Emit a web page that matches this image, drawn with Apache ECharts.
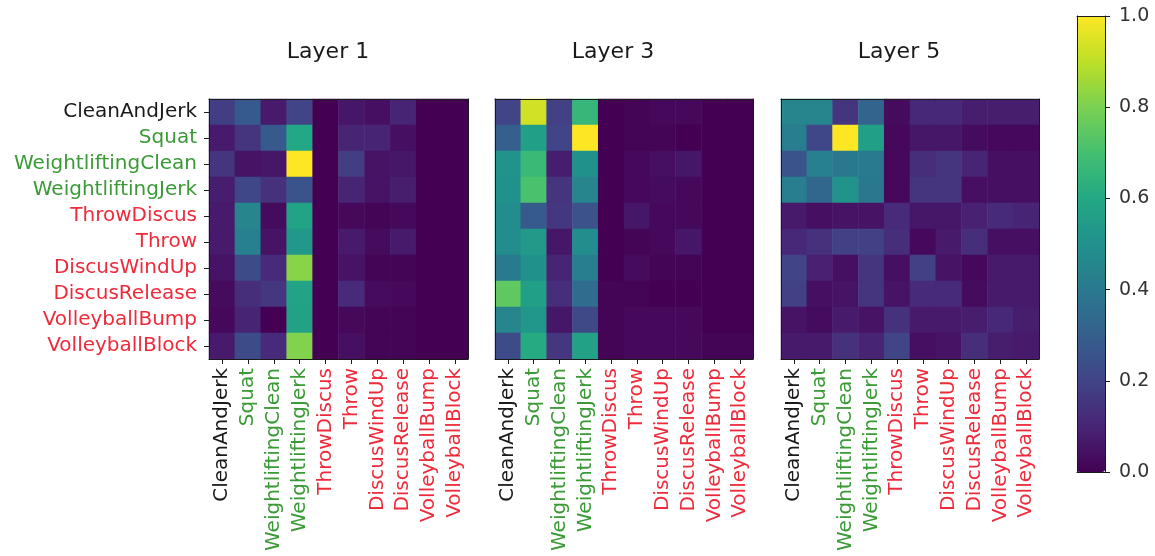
<!DOCTYPE html>
<html>
<head>
<meta charset="utf-8">
<script src="https://cdn.jsdelivr.net/npm/echarts@6/dist/echarts.min.js"></script>
<style>
html,body{margin:0;padding:0;background:#fff;}
#chart{width:1155px;height:556px;}
</style>
</head>
<body>
<div id="chart"></div>
<script>
const categories = ['CleanAndJerk','Squat','WeightliftingClean','WeightliftingJerk','ThrowDiscus','Throw','DiscusWindUp','DiscusRelease','VolleyballBump','VolleyballBlock'];
const categoryGroup = ['black','green','green','green','red','red','red','red','red','red'];
const layerTitles = ['Layer 1','Layer 3','Layer 5'];
const colorbarTicks = [0, 0.2, 0.4, 0.6, 0.8, 1.0];

const layer1 = [
  [0.18, 0.28, 0.07, 0.20, 0.00, 0.06, 0.04, 0.10, 0.00, 0.00],
  [0.07, 0.15, 0.28, 0.60, 0.00, 0.10, 0.10, 0.04, 0.00, 0.00],
  [0.15, 0.05, 0.06, 1.00, 0.00, 0.18, 0.05, 0.06, 0.00, 0.00],
  [0.08, 0.21, 0.14, 0.26, 0.00, 0.10, 0.05, 0.08, 0.00, 0.00],
  [0.07, 0.45, 0.03, 0.58, 0.00, 0.02, 0.01, 0.02, 0.00, 0.00],
  [0.07, 0.43, 0.05, 0.53, 0.00, 0.07, 0.03, 0.07, 0.00, 0.00],
  [0.05, 0.23, 0.12, 0.82, 0.00, 0.05, 0.01, 0.01, 0.00, 0.00],
  [0.03, 0.13, 0.16, 0.58, 0.00, 0.12, 0.03, 0.02, 0.00, 0.00],
  [0.02, 0.10, 0.00, 0.57, 0.00, 0.02, 0.01, 0.01, 0.00, 0.00],
  [0.07, 0.23, 0.12, 0.81, 0.00, 0.04, 0.01, 0.01, 0.00, 0.00]
];
const layer3 = [
  [0.20, 0.93, 0.19, 0.66, 0.00, 0.01, 0.02, 0.02, 0.00, 0.00],
  [0.30, 0.56, 0.20, 1.00, 0.00, 0.01, 0.01, 0.00, 0.00, 0.00],
  [0.51, 0.67, 0.08, 0.50, 0.00, 0.02, 0.04, 0.06, 0.00, 0.00],
  [0.50, 0.71, 0.15, 0.45, 0.00, 0.02, 0.03, 0.02, 0.00, 0.00],
  [0.48, 0.28, 0.16, 0.25, 0.00, 0.06, 0.02, 0.02, 0.00, 0.00],
  [0.48, 0.54, 0.06, 0.48, 0.00, 0.01, 0.02, 0.06, 0.00, 0.00],
  [0.41, 0.50, 0.10, 0.42, 0.00, 0.03, 0.01, 0.01, 0.00, 0.00],
  [0.75, 0.56, 0.13, 0.35, 0.01, 0.01, 0.00, 0.00, 0.00, 0.00],
  [0.45, 0.52, 0.06, 0.22, 0.01, 0.02, 0.02, 0.02, 0.00, 0.00],
  [0.23, 0.61, 0.16, 0.57, 0.01, 0.02, 0.02, 0.02, 0.01, 0.01]
];
const layer5 = [
  [0.45, 0.45, 0.15, 0.32, 0.03, 0.11, 0.11, 0.08, 0.08, 0.08],
  [0.42, 0.21, 1.00, 0.56, 0.02, 0.06, 0.06, 0.03, 0.02, 0.02],
  [0.26, 0.43, 0.40, 0.41, 0.02, 0.13, 0.15, 0.10, 0.04, 0.04],
  [0.42, 0.33, 0.51, 0.40, 0.02, 0.15, 0.15, 0.04, 0.04, 0.04],
  [0.07, 0.04, 0.05, 0.05, 0.12, 0.06, 0.06, 0.09, 0.12, 0.10],
  [0.11, 0.14, 0.19, 0.19, 0.13, 0.02, 0.07, 0.13, 0.04, 0.04],
  [0.20, 0.09, 0.04, 0.15, 0.04, 0.19, 0.05, 0.02, 0.07, 0.07],
  [0.19, 0.04, 0.05, 0.15, 0.05, 0.12, 0.12, 0.03, 0.07, 0.07],
  [0.05, 0.03, 0.07, 0.05, 0.14, 0.07, 0.07, 0.08, 0.11, 0.08],
  [0.07, 0.07, 0.14, 0.10, 0.20, 0.04, 0.05, 0.13, 0.08, 0.07]
];
const layers = [layer1, layer3, layer5];

const viridis = ['#440154','#482475','#414487','#355f8d','#2a788e','#21918c','#22a884','#44bf70','#7ad151','#bddf26','#fde725'];
const groupColor = {black:'#1a1a1a', green:'#3a9a36', red:'#ee2b3b'};
const FONT = 'DejaVu Sans';
const labelColorFn = (v, i) => groupColor[categoryGroup[i === undefined ? categories.indexOf(v) : i]];

const gridBoxes = [
  {left:209, top:99, width:259, height:260},
  {left:495, top:99, width:258, height:260},
  {left:781, top:99, width:258, height:260}
];
const titleCenters = [323, 608, 894];
const axisLineStyle = {color:'#1a1a1a', width:1};

const grid = gridBoxes.map(g => Object.assign({containLabel:false}, g));
grid.push({left:1077, top:16, width:28, height:456});

const xAxis = [], yAxis = [], series = [];
layers.forEach((layer, g) => {
  xAxis.push({
    type:'category', gridIndex:g, data:categories, position:'bottom',
    axisLine:{show:true, lineStyle:axisLineStyle, onZero:false},
    axisTick:{show:true, alignWithLabel:true, length:5, lineStyle:axisLineStyle},
    axisLabel:{rotate:90, interval:0, margin:9, fontFamily:FONT, fontSize:20, color:labelColorFn},
    splitLine:{show:false}, z:10
  });
  xAxis.push({
    type:'category', gridIndex:g, data:categories, position:'top',
    axisLine:{show:true, lineStyle:axisLineStyle, onZero:false},
    axisTick:{show:false}, axisLabel:{show:false}, splitLine:{show:false}, z:10
  });
  yAxis.push({
    type:'category', gridIndex:g, data:categories, inverse:true, position:'left',
    axisLine:{show:true, lineStyle:axisLineStyle, onZero:false},
    axisTick:{show:g === 0, alignWithLabel:true, length:5, lineStyle:axisLineStyle},
    axisLabel:{show:g === 0, interval:0, margin:12, fontFamily:FONT, fontSize:20, color:labelColorFn},
    splitLine:{show:false}, z:10
  });
  yAxis.push({
    type:'category', gridIndex:g, data:categories, inverse:true, position:'right',
    axisLine:{show:true, lineStyle:axisLineStyle, onZero:false},
    axisTick:{show:false}, axisLabel:{show:false}, splitLine:{show:false}, z:10
  });
  const data = [];
  layer.forEach((row, yi) => row.forEach((v, xi) => data.push([xi, yi, v])));
  series.push({
    type:'heatmap', xAxisIndex:2*g, yAxisIndex:2*g, data:data,
    itemStyle:{borderWidth:0}, emphasis:{disabled:true}, progressive:0
  });
});
// colorbar axes
xAxis.push({type:'value', gridIndex:3, min:0, max:1, position:'bottom',
  axisLine:{show:true, lineStyle:axisLineStyle, onZero:false}, axisTick:{show:false}, axisLabel:{show:false}, splitLine:{show:false}, z:10});
xAxis.push({type:'value', gridIndex:3, min:0, max:1, position:'top',
  axisLine:{show:true, lineStyle:axisLineStyle, onZero:false}, axisTick:{show:false}, axisLabel:{show:false}, splitLine:{show:false}, z:10});
yAxis.push({type:'value', gridIndex:3, min:colorbarTicks[0], max:colorbarTicks[colorbarTicks.length-1], interval:0.2, position:'right',
  axisLine:{show:true, lineStyle:axisLineStyle, onZero:false},
  axisTick:{show:true, length:5, lineStyle:axisLineStyle},
  axisLabel:{margin:14, fontFamily:FONT, fontSize:19, color:'#333', formatter:v => v.toFixed(1)},
  splitLine:{show:false}, z:10});
yAxis.push({type:'value', gridIndex:3, min:0, max:1, position:'left',
  axisLine:{show:true, lineStyle:axisLineStyle, onZero:false}, axisTick:{show:false}, axisLabel:{show:false}, splitLine:{show:false}, z:10});

const option = {
  backgroundColor:'#fff',
  animation:false,
  title: layerTitles.map((t, i) => ({
    text:t, left:titleCenters[i], top:36, textAlign:'center',
    textStyle:{fontFamily:FONT, fontSize:22, fontWeight:'normal', color:'#1a1a1a'}
  })),
  grid: grid,
  xAxis: xAxis,
  yAxis: yAxis,
  visualMap: {
    type:'continuous', min:0, max:1, seriesIndex:[0,1,2],
    left:1077, top:16, itemWidth:28, itemHeight:456, padding:0,
    calculable:false, hoverLink:false, text:null, showLabel:false,
    inRange:{color:viridis}
  },
  series: series
};
const chart = echarts.init(document.getElementById('chart'), null, {renderer:'canvas'});
chart.setOption(option);
</script>
</body>
</html>
